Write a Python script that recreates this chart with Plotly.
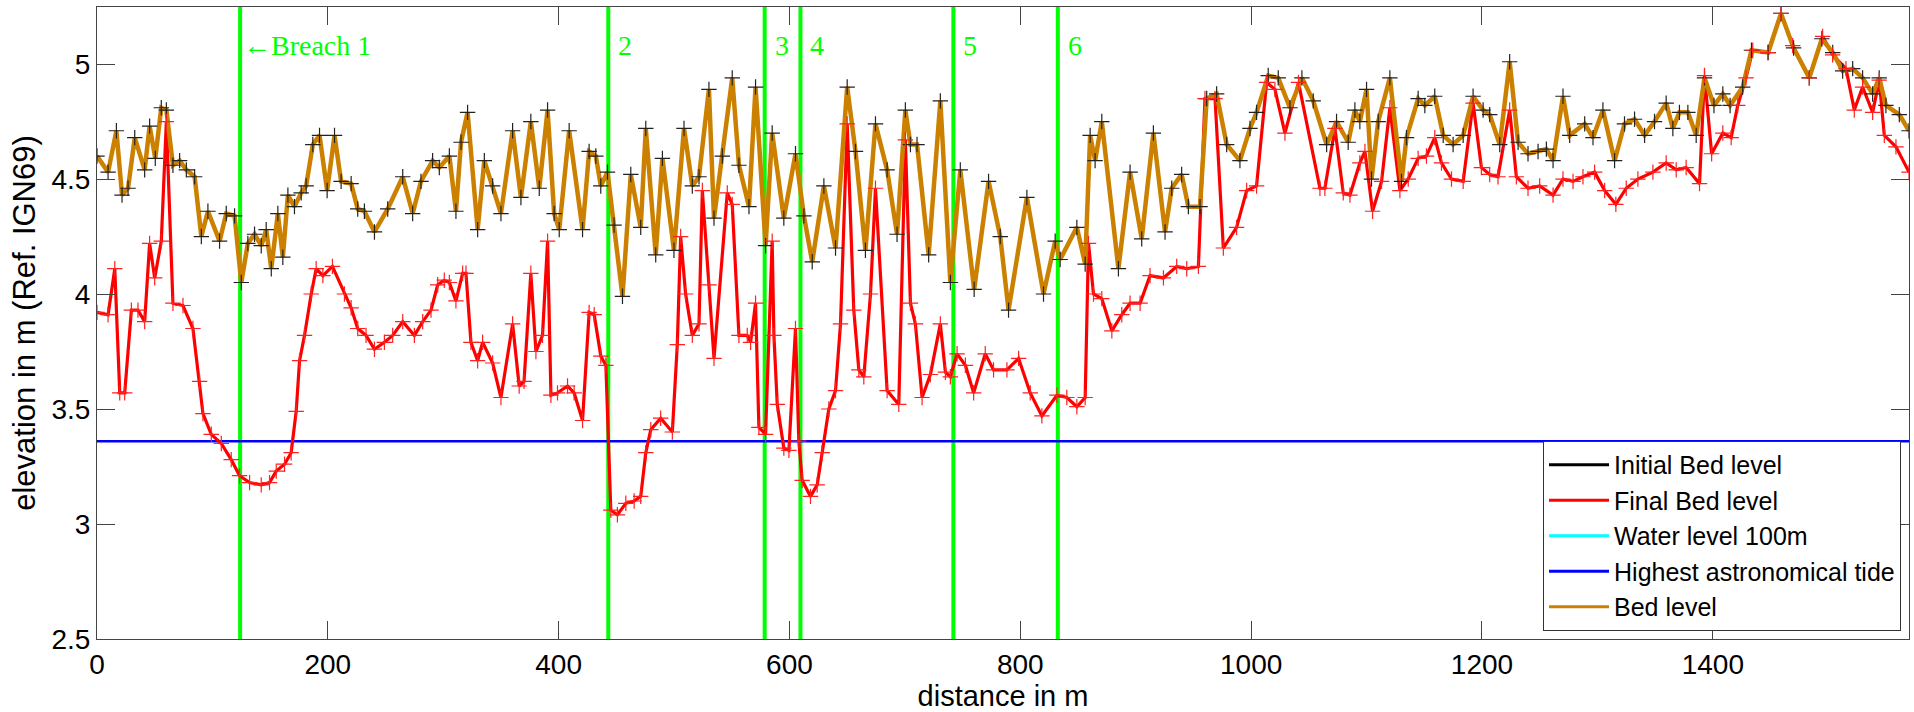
import plotly.graph_objects as go

# ---------------- data ----------------
bed_x = [0, 9.6, 16.8, 21.7, 26.9, 32.7, 41.3, 45.6, 50.5, 55.7, 60.1, 65.8, 71.6, 77.4, 84.6, 90.4, 96.1,
         106.2, 112.0, 119.2, 125.0, 130.7, 136.5, 142.3, 146.6, 151.0, 156.7, 161.0, 165.4, 171.1, 176.9,
         181.2, 187.0, 192.8, 199.4, 205.8, 211.5, 220.2, 225.9, 231.7, 240.4, 251.9, 264.9, 273.5, 280.7,
         290.8, 296.6, 305.3, 311.0, 315.4, 321.1, 329.8, 335.6, 342.8, 350.0, 360.1, 367.3, 375.9, 383.2,
         390.4, 396.1, 400.5, 409.1, 420.7, 426.4, 432.2, 436.5, 442.3, 448.0, 455.3, 462.5, 471.1, 475.5,
         484.1, 489.9, 499.9, 508.6, 515.8, 521.6, 530.2, 534.6, 541.8, 550.4, 556.2, 564.9, 570.6, 579.3,
         585.0, 595.1, 605.2, 612.5, 619.7, 629.8, 639.9, 650.0, 657.2, 665.8, 674.5, 684.6, 693.2, 700.4,
         704.8, 710.5, 720.6, 730.7, 739.4, 748.0, 760.0, 772.5, 782.6, 789.8, 805.7, 820.1, 830.2, 834.5,
         849.0, 856.2, 860.5, 864.8, 870.6, 885.0, 895.1, 905.2, 915.3, 925.4, 931.2, 939.8, 945.6, 955.7,
         961.5, 970.1, 978.8, 990.3, 999.0, 1004.7, 1014.8, 1023.5, 1033.6, 1044.0, 1053.8, 1065.4, 1074.0,
         1084.1, 1089.9, 1094.2, 1100.0, 1104.3, 1110.1, 1120.2, 1130.3, 1134.6, 1144.7, 1150.5, 1159.1,
         1166.4, 1175.0, 1183.7, 1192.3, 1201.0, 1206.7, 1215.4, 1224.0, 1231.3, 1239.9, 1248.6, 1255.8,
         1261.6, 1270.2, 1276.0, 1289.0, 1296.2, 1304.8, 1314.9, 1323.5, 1332.2, 1340.9, 1349.5, 1359.6,
         1365.4, 1371.1, 1378.4, 1385.6, 1392.8, 1401.0, 1408.7, 1415.0, 1425.9, 1433.5, 1448.0, 1459.1,
         1470.0, 1483.6, 1494.5, 1503.9, 1512.5, 1521.2, 1529.8, 1538.5, 1544.2, 1550.0, 1561.6, 1570.0]
bed_y = [4.60, 4.53, 4.71, 4.43, 4.46, 4.68, 4.54, 4.73, 4.59, 4.81, 4.80, 4.56, 4.58, 4.54, 4.51, 4.25, 4.36,
         4.23, 4.35, 4.34, 4.05, 4.22, 4.26, 4.21, 4.28, 4.11, 4.35, 4.16, 4.43, 4.38, 4.44,
         4.47, 4.65, 4.69, 4.45, 4.69, 4.49, 4.48, 4.37, 4.36, 4.27, 4.37, 4.51, 4.35, 4.49,
         4.58, 4.55, 4.60, 4.36, 4.66, 4.79, 4.28, 4.58, 4.47, 4.35, 4.71, 4.42, 4.75, 4.46,
         4.80, 4.35, 4.28, 4.71, 4.28, 4.62, 4.60, 4.47, 4.53, 4.30, 3.99, 4.52, 4.29, 4.72,
         4.17, 4.59, 4.19, 4.72, 4.47, 4.51, 4.89, 4.33, 4.60, 4.94, 4.56, 4.38, 4.90, 4.21,
         4.70, 4.33, 4.61, 4.34, 4.14, 4.47, 4.20, 4.90, 4.62, 4.19, 4.74, 4.54, 4.26, 4.80,
         4.65, 4.65, 4.17, 4.84, 4.05, 4.54, 4.02, 4.49, 4.25, 3.93, 4.42, 4.00, 4.23, 4.15,
         4.29, 4.13, 4.69, 4.58, 4.75, 4.11, 4.53, 4.24, 4.70, 4.27, 4.46, 4.52, 4.38, 4.38,
         4.85, 4.87, 4.65, 4.58, 4.72, 4.79, 4.95, 4.94, 4.81, 4.94, 4.84, 4.65, 4.75,
         4.66, 4.80, 4.75, 4.89, 4.50, 4.75, 4.94, 4.49, 4.68, 4.85, 4.82, 4.86,
         4.69, 4.65, 4.69, 4.86, 4.80, 4.78, 4.65, 5.01, 4.66, 4.61, 4.62, 4.63,
         4.58, 4.86, 4.69, 4.74, 4.68, 4.80, 4.58, 4.74, 4.76, 4.69, 4.75, 4.83,
         4.72, 4.79, 4.79, 4.69, 4.94, 4.82, 4.87, 4.82, 4.90, 5.06, 5.05, 5.22,
         5.07, 4.94, 5.11, 5.05, 4.97, 4.98, 4.94, 4.87, 4.94, 4.82, 4.78, 4.71]

final_x = [0, 9.6, 15.4, 19.7, 24.0, 29.8, 35.5, 41.3, 45.6, 50.0, 55.7, 60.1, 65.8, 74.5, 83.1, 88.9, 91.8,
           99.0, 107.7, 116.3, 123.5, 132.2, 142.3, 149.5, 155.3, 162.5, 168.2, 172.6, 175.5, 179.8, 185.6,
           189.9, 195.7, 204.0, 214.4, 220.2, 225.9, 233.1, 240.4, 249.0, 256.2, 264.9, 275.0, 282.2, 289.4,
           295.2, 300.9, 305.3, 311.0, 316.8, 319.7, 324.0, 329.8, 334.1, 342.8, 350.0, 360.1, 365.8, 370.0,
           375.9, 380.3, 386.0, 390.4, 393.3, 399.0, 407.7, 413.4, 420.7, 426.4, 430.8, 436.5, 440.9, 445.2,
           450.9, 458.2, 465.4, 471.1, 475.5, 479.8, 488.4, 498.5, 502.8, 505.7, 510.0, 515.8, 521.6, 524.5,
           530.2, 534.6, 546.1, 550.4, 556.2, 563.4, 566.3, 570.6, 573.5, 579.3, 585.0, 586.5, 589.4, 595.1,
           599.5, 605.2, 608.1, 611.0, 618.2, 624.0, 628.3, 634.1, 639.9, 644.2, 650.0, 655.7, 660.1, 664.4,
           670.2, 674.5, 684.6, 694.7, 700.4, 704.8, 709.1, 714.9, 722.1, 730.7, 735.1, 739.4, 745.2, 752.4,
           759.6, 769.6, 776.8, 788.4, 798.5, 808.6, 818.7, 831.7, 840.3, 849.0, 856.2, 859.1, 863.4, 870.6,
           879.3, 887.9, 895.1, 903.8, 912.4, 924.0, 935.5, 944.2, 954.3, 960.0, 968.7, 975.9, 987.4, 996.1,
           1004.7, 1013.4, 1020.6, 1029.3, 1041.0, 1059.6, 1063.9, 1072.6, 1079.8, 1085.6, 1094.2, 1098.6,
           1105.2, 1113.0, 1120.2, 1128.9, 1136.1, 1144.7, 1151.9, 1159.1, 1164.9, 1173.6, 1183.7, 1192.3,
           1199.5, 1206.7, 1213.9, 1224.0, 1229.8, 1239.9, 1250.0, 1261.6, 1270.2, 1278.9, 1287.5, 1297.6,
           1306.3, 1316.0, 1325.0, 1335.1, 1348.1, 1359.6, 1368.3, 1376.9, 1388.5, 1392.8, 1399.0, 1408.7,
           1415.9, 1421.6, 1428.8, 1434.6, 1447.6, 1459.1, 1469.2, 1483.6, 1495.2, 1503.8, 1515.4, 1522.6,
           1529.8, 1538.5, 1544.2, 1548.6, 1558.7, 1570.0]
final_y = [3.92, 3.91, 4.11, 3.57, 3.57, 3.93, 3.93, 3.88, 4.22, 4.07, 4.23, 4.75, 3.96, 3.95, 3.85, 3.62, 3.48,
           3.39, 3.35, 3.28, 3.21, 3.18, 3.17, 3.18, 3.23, 3.26, 3.31, 3.49, 3.71, 3.82, 4.00,
           4.11, 4.08, 4.12, 4.00, 3.94, 3.85, 3.82, 3.76, 3.79, 3.82, 3.88, 3.82, 3.88, 3.93,
           4.04, 4.06, 4.05, 3.97, 4.09, 4.09, 3.79, 3.71, 3.79, 3.70, 3.55, 3.87, 3.60, 3.62,
           4.09, 3.75, 3.82, 4.23, 3.56, 3.57, 3.60, 3.57, 3.45, 3.92, 3.91, 3.73, 3.69, 3.06,
           3.04, 3.09, 3.10, 3.12, 3.31, 3.41, 3.46, 3.40, 3.78, 4.25, 4.00, 3.82, 3.87, 4.45,
           4.04, 3.72, 4.44, 4.39, 3.82, 3.82, 3.79, 3.96, 3.42, 3.39, 4.23, 3.82, 3.52, 3.33,
           3.32, 3.85, 3.36, 3.19, 3.12, 3.17, 3.31, 3.50, 3.58, 3.87, 4.74, 3.93, 3.67, 3.64,
           4.00, 4.46, 3.58, 3.52, 4.67, 3.96, 3.87, 3.55, 3.65, 3.87, 3.66, 3.64, 3.74, 3.69,
           3.57, 3.74, 3.67, 3.67, 3.72, 3.57, 3.47, 3.56, 3.55, 3.51, 3.55, 4.22, 4.00, 3.98,
           3.84, 3.91, 3.96, 3.96, 4.08, 4.07, 4.12, 4.11, 4.12, 4.85, 4.85, 4.20, 4.29, 4.45,
           4.47, 4.92, 4.89, 4.70, 4.92, 4.46, 4.46, 4.72, 4.44, 4.43, 4.57, 4.62,
           4.36, 4.49, 4.81, 4.45, 4.50, 4.59, 4.60, 4.68, 4.57, 4.50, 4.49, 4.83,
           4.55, 4.52, 4.51, 4.80, 4.51, 4.46, 4.47, 4.43, 4.50, 4.49, 4.51, 4.53,
           4.45, 4.39, 4.46, 4.50, 4.53, 4.57, 4.54, 4.55, 4.48, 4.95, 4.61, 4.70,
           4.68, 4.82, 4.94, 5.06, 5.05, 5.22, 5.08, 4.94, 5.12, 5.04, 4.98, 4.80,
           4.90, 4.79, 4.93, 4.69, 4.64, 4.53]

water_x = []          # water level 100m: no values inside the plotted range
water_y = []
hat_level = 3.36      # highest astronomical tide
breach_x = [124, 443, 578.5, 609.5, 742, 832.5]
breach_labels = ["\u2190Breach 1", "2", "3", "4", "5", "6"]
breach_label_y = 5.08

x_ticks = [0, 200, 400, 600, 800, 1000, 1200, 1400]
y_ticks = [2.5, 3, 3.5, 4, 4.5, 5]
y_tick_text = ["2.5", "3", "3.5", "4", "4.5", "5"]
X_RANGE = [0, 1570]
Y_RANGE = [2.5, 5.248]

# ---------------- styles ----------------
ORANGE = "#CC8000"
GREEN = "#00FF00"
SANS = "Liberation Sans, Arial, Helvetica, sans-serif"
SERIF = "Liberation Serif, Times New Roman, serif"

fig = go.Figure()

for bx in breach_x:
    fig.add_trace(go.Scatter(x=[bx, bx], y=Y_RANGE, mode="lines",
                             line=dict(color=GREEN, width=4), showlegend=False, hoverinfo="skip"))

fig.add_trace(go.Scatter(x=X_RANGE, y=[hat_level, hat_level], mode="lines",
                         line=dict(color="#0000FF", width=2.5), showlegend=False))
fig.add_trace(go.Scatter(x=water_x, y=water_y, mode="lines",
                         line=dict(color="#00FFFF", width=2.5), showlegend=False))
fig.add_trace(go.Scatter(x=bed_x, y=bed_y, mode="lines",
                         line=dict(color="black", width=1), showlegend=False))
fig.add_trace(go.Scatter(x=final_x, y=final_y, mode="lines",
                         line=dict(color="#FF0000", width=3.2), showlegend=False))
fig.add_trace(go.Scatter(x=bed_x, y=bed_y, mode="lines",
                         line=dict(color=ORANGE, width=4.5), showlegend=False))
fig.add_trace(go.Scatter(x=bed_x, y=bed_y, mode="markers",
                         marker=dict(symbol="cross-thin", size=11, color="black",
                                     line=dict(color="#222222", width=1.2)),
                         showlegend=False))
fig.add_trace(go.Scatter(x=final_x, y=final_y, mode="markers",
                         marker=dict(symbol="cross-thin", size=11, color="#FF0000",
                                     line=dict(color="#FF2020", width=1.2)),
                         showlegend=False))

# legend entries (line samples only)
legend_items = [("Initial Bed level", "black"), ("Final Bed level", "#FF0000"),
                ("Water level 100m", "#00FFFF"), ("Highest astronomical tide", "#0000FF"),
                ("Bed level", ORANGE)]
for name, col in legend_items:
    fig.add_trace(go.Scatter(x=[None], y=[None], mode="lines", name=name,
                             line=dict(color=col, width=3)))

for bx, lab in zip(breach_x, breach_labels):
    fig.add_annotation(x=bx, y=breach_label_y, xref="x", yref="y", text=lab, showarrow=False,
                       xanchor="left", yanchor="middle", xshift=(1 if lab.startswith("\u2190") else 8),
                       font=dict(family=SERIF, size=28, color=GREEN))

axis_common = dict(showgrid=False, zeroline=False, showline=True, linecolor="#444444", linewidth=1,
                   mirror="ticks", ticks="inside", ticklen=18, tickcolor="#444444", tickwidth=1,
                   tickfont=dict(family=SANS, size=28, color="black"))

fig.update_xaxes(range=X_RANGE, tickmode="array", tickvals=x_ticks,
                 title=dict(text="distance in m", font=dict(family=SANS, size=29, color="black"), standoff=4),
                 **axis_common)
fig.update_yaxes(range=Y_RANGE, tickmode="array", tickvals=y_ticks, ticktext=y_tick_text,
                 title=dict(text="elevation in m (Ref. IGN69)", font=dict(family=SANS, size=31, color="black"),
                            standoff=6),
                 **axis_common)

fig.update_layout(
    width=1914, height=712,
    margin=dict(l=97, r=5, t=7, b=73),
    paper_bgcolor="white", plot_bgcolor="white",
    legend=dict(x=0.9956, y=0.0127, xanchor="right", yanchor="bottom",
                bgcolor="white", bordercolor="#333333", borderwidth=1, itemwidth=60,
                font=dict(family=SANS, size=25, color="black"), tracegroupgap=0),
    showlegend=True,
)

fig.write_html("out.html", config={"displayModeBar": False},
               post_script="document.body.style.margin='0';document.body.style.overflow='hidden';")
